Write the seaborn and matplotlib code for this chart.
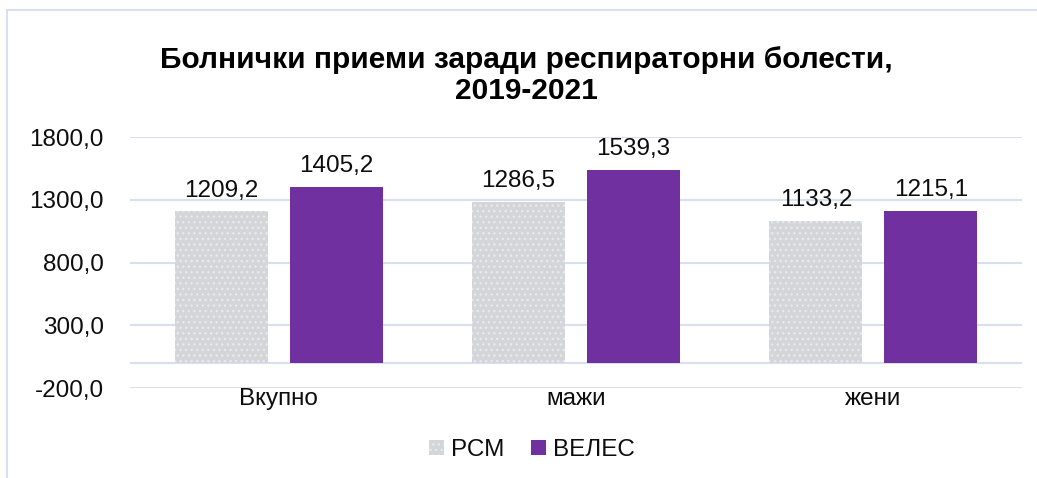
import matplotlib
matplotlib.use("Agg")
import matplotlib.pyplot as plt
from matplotlib import font_manager
from matplotlib.patches import Rectangle
from matplotlib.ticker import FuncFormatter
import seaborn as sns
import pandas as pd

categories = ["Вкупно", "мажи", "жени"]
series_names = ["РСМ", "ВЕЛЕС"]
rsm_values = [1209.2, 1286.5, 1133.2]
veles_values = [1405.2, 1539.3, 1215.1]
y_ticks = [-200, 300, 800, 1300, 1800]
title_text = "Болнички приеми заради респираторни болести,\n2019-2021"

df = pd.DataFrame({
    "category": categories * 2,
    "series": [series_names[0]] * 3 + [series_names[1]] * 3,
    "value": rsm_values + veles_values,
})

sns.set_theme(style="white")
available = {f.name for f in font_manager.fontManager.ttflist}
base_font = "Liberation Sans" if "Liberation Sans" in available else "DejaVu Sans"
if "Liberation Sans Narrow" in available:
    title_font, title_size = "Liberation Sans Narrow", 22.5
else:
    title_font, title_size = base_font, 21.5
plt.rcParams["font.family"] = [base_font, "DejaVu Sans"]
plt.rcParams["hatch.linewidth"] = 1.0

grid_color = "#D6E0F0"
purple = "#7030A0"
gray = "#D3D5D8"
text_color = "#0d0d0d"
fs = 17.5

fig = plt.figure(figsize=(10.37, 4.78), dpi=100)
ax = fig.add_axes([0.1254, 0.188, 0.8601, 0.525])

sns.barplot(data=df, x="category", y="value", hue="series",
            palette=[gray, purple], width=0.773, gap=0.19,
            order=categories, hue_order=series_names,
            ax=ax, legend=False, saturation=1)

# textured look for the national bars, flat fill for Veles
for patch, name in zip(ax.patches, [series_names[0]] * 3 + [series_names[1]] * 3):
    if name == series_names[0]:
        patch.set_facecolor(gray)
        patch.set_edgecolor("#E8E9EC")
        patch.set_hatch("...")
        patch.set_linewidth(0)
    else:
        patch.set_facecolor(purple)
        patch.set_linewidth(0)

ax.set_ylim(-200, 1800)
ax.set_xlim(-0.5, 2.5)
ax.set_yticks(y_ticks)
ax.yaxis.set_major_formatter(FuncFormatter(lambda v, p: f"{v:.1f}".replace(".", ",")))
ax.grid(axis="y", color=grid_color, linewidth=1.5)
ax.axhline(0, color=grid_color, linewidth=1.5, zorder=0)
ax.set_axisbelow(True)
for s in ax.spines.values():
    s.set_visible(False)
ax.set_xlabel("")
ax.set_ylabel("")
ax.tick_params(axis="y", labelsize=fs, pad=19, length=0, colors=text_color)
ax.tick_params(axis="x", labelsize=fs, pad=0, length=0, colors=text_color)

for container in ax.containers:
    ax.bar_label(container, labels=[f"{v:.1f}".replace(".", ",") for v in container.datavalues],
                 padding=7, fontsize=fs, color=text_color)

fig.text(0.508, 0.842, title_text, ha="center", va="center", fontsize=title_size,
         fontweight="bold", family=[title_font, "DejaVu Sans"], linespacing=1.15,
         color="black")

handles = [Rectangle((0, 0), 1, 1, facecolor=gray, edgecolor="#E8E9EC", hatch="...", linewidth=0),
           Rectangle((0, 0), 1, 1, facecolor=purple, linewidth=0)]
fig.legend(handles, series_names, loc="center", bbox_to_anchor=(0.513, 0.058), ncol=2,
           frameon=False, fontsize=fs, handlelength=0.6, handleheight=0.6,
           handletextpad=0.3, columnspacing=1.1, labelcolor=text_color)

# outer chart frame
frame = Rectangle((0.0068, -0.05), 1.1, 1.029, transform=fig.transFigure,
                  fill=False, edgecolor=grid_color, linewidth=1.5)
fig.patches.append(frame)

fig.savefig("out.png", dpi=100)
